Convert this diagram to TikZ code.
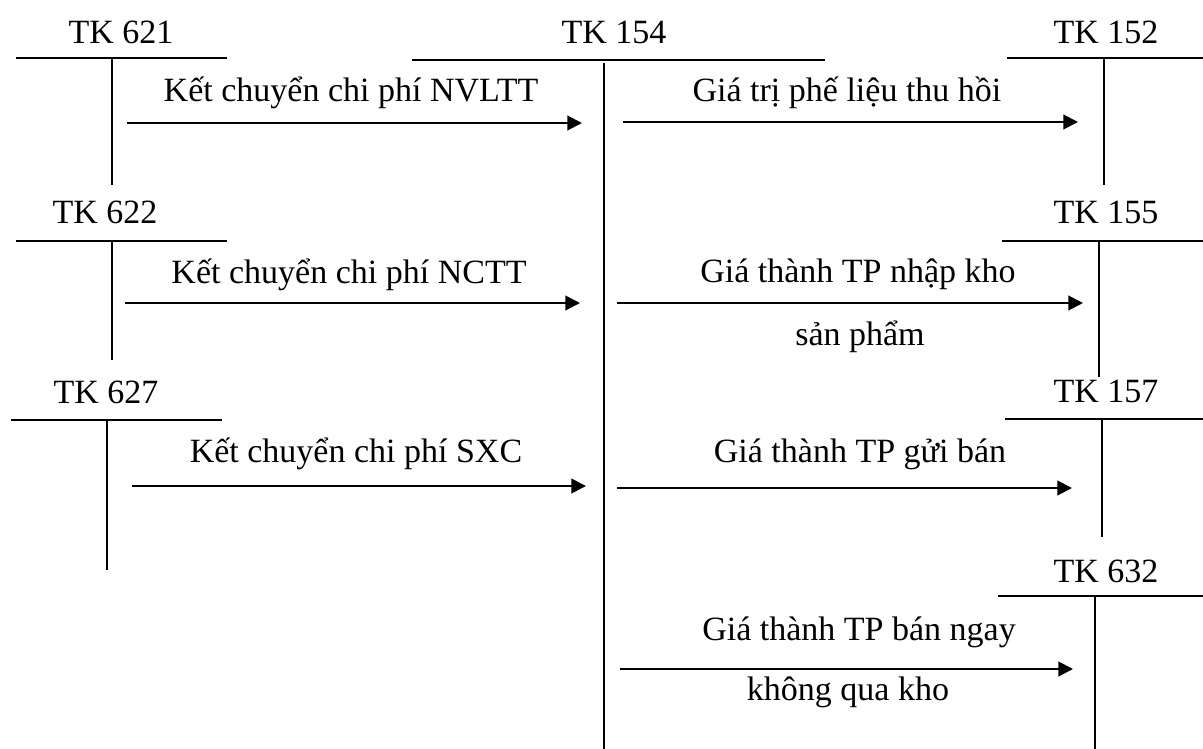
\documentclass[tikz,border=0pt]{standalone}
\usepackage{fontspec}
\setmainfont{Liberation Serif}
\usetikzlibrary{arrows.meta}
\begin{document}
\begin{tikzpicture}[x=0.75pt,y=-0.75pt,
  acct/.style={line width=1.15pt},
  flow/.style={line width=1.5pt,-{Triangle[length=11pt,width=11pt]}},
  lbl/.style={inner sep=0pt,anchor=base,font=\fontsize{25.5}{30}\selectfont}]
\useasboundingbox (0,0) rectangle (1203,749);

% ---- T-accounts: title, top bar, centre line ----
% TK 621
\node[lbl] (t621) at (121,44) {TK 621};
\coordinate (a621l) at (16,58);  \coordinate (a621r) at (227,58);
\coordinate (a621t) at (112,58); \coordinate (a621b) at (112,185);
\draw[acct] (a621l) -- (a621r) (a621t) -- (a621b);
% TK 622
\node[lbl] (t622) at (105,223) {TK 622};
\coordinate (a622l) at (16,241);  \coordinate (a622r) at (227,241);
\coordinate (a622t) at (112,241); \coordinate (a622b) at (112,360);
\draw[acct] (a622l) -- (a622r) (a622t) -- (a622b);
% TK 627
\node[lbl] (t627) at (106,403) {TK 627};
\coordinate (a627l) at (11,420);  \coordinate (a627r) at (222,420);
\coordinate (a627t) at (107,420); \coordinate (a627b) at (107,570);
\draw[acct] (a627l) -- (a627r) (a627t) -- (a627b);
% TK 154
\node[lbl] (t154) at (614,44) {TK 154};
\coordinate (a154l) at (412,60);  \coordinate (a154r) at (825,60);
\coordinate (a154t) at (604,63); \coordinate (a154b) at (604,749);
\draw[acct] (a154l) -- (a154r) (a154t) -- (a154b);
% TK 152
\node[lbl] (t152) at (1106,44) {TK 152};
\coordinate (a152l) at (1007,58);  \coordinate (a152r) at (1203,58);
\coordinate (a152t) at (1104,58); \coordinate (a152b) at (1104,185);
\draw[acct] (a152l) -- (a152r) (a152t) -- (a152b);
% TK 155
\node[lbl] (t155) at (1106,223) {TK 155};
\coordinate (a155l) at (1002,241);  \coordinate (a155r) at (1203,241);
\coordinate (a155t) at (1099,241); \coordinate (a155b) at (1099,377);
\draw[acct] (a155l) -- (a155r) (a155t) -- (a155b);
% TK 157
\node[lbl] (t157) at (1106,402) {TK 157};
\coordinate (a157l) at (1005,419);  \coordinate (a157r) at (1203,419);
\coordinate (a157t) at (1102,419); \coordinate (a157b) at (1102,537);
\draw[acct] (a157l) -- (a157r) (a157t) -- (a157b);
% TK 632
\node[lbl] (t632) at (1106,582) {TK 632};
\coordinate (a632l) at (998,596);  \coordinate (a632r) at (1203,596);
\coordinate (a632t) at (1095,596); \coordinate (a632b) at (1095,749);
\draw[acct] (a632l) -- (a632r) (a632t) -- (a632b);

% ---- transfers into TK 154 ----
\coordinate (f1s) at (127,123); \coordinate (f1e) at (582,123);
\draw[flow] (f1s) -- (f1e);
\node[lbl] (l1) at (351,102) {Kết chuyển chi phí NVLTT};

\coordinate (f2s) at (125,303); \coordinate (f2e) at (580,303);
\draw[flow] (f2s) -- (f2e);
\node[lbl] (l2) at (349,283) {Kết chuyển chi phí NCTT};

\coordinate (f3s) at (132,486); \coordinate (f3e) at (586,486);
\draw[flow] (f3s) -- (f3e);
\node[lbl] (l3) at (356,462) {Kết chuyển chi phí SXC};

% ---- transfers out of TK 154 ----
\coordinate (g1s) at (623,122); \coordinate (g1e) at (1078,122);
\draw[flow] (g1s) -- (g1e);
\node[lbl] (m1) at (847,102) {Giá trị phế liệu thu hồi};

\coordinate (g2s) at (617,303); \coordinate (g2e) at (1083,303);
\draw[flow] (g2s) -- (g2e);
\node[lbl] (m2a) at (858,282) {Giá thành TP nhập kho};
\node[lbl] (m2b) at (860,345) {sản phẩm};

\coordinate (g3s) at (617,488); \coordinate (g3e) at (1072,488);
\draw[flow] (g3s) -- (g3e);
\node[lbl] (m3) at (860,462) {Giá thành TP gửi bán};

\coordinate (g4s) at (620,669); \coordinate (g4e) at (1073,669);
\draw[flow] (g4s) -- (g4e);
\node[lbl] (m4a) at (859,640) {Giá thành TP bán ngay};
\node[lbl] (m4b) at (848,700) {không qua kho};
\end{tikzpicture}
\end{document}
